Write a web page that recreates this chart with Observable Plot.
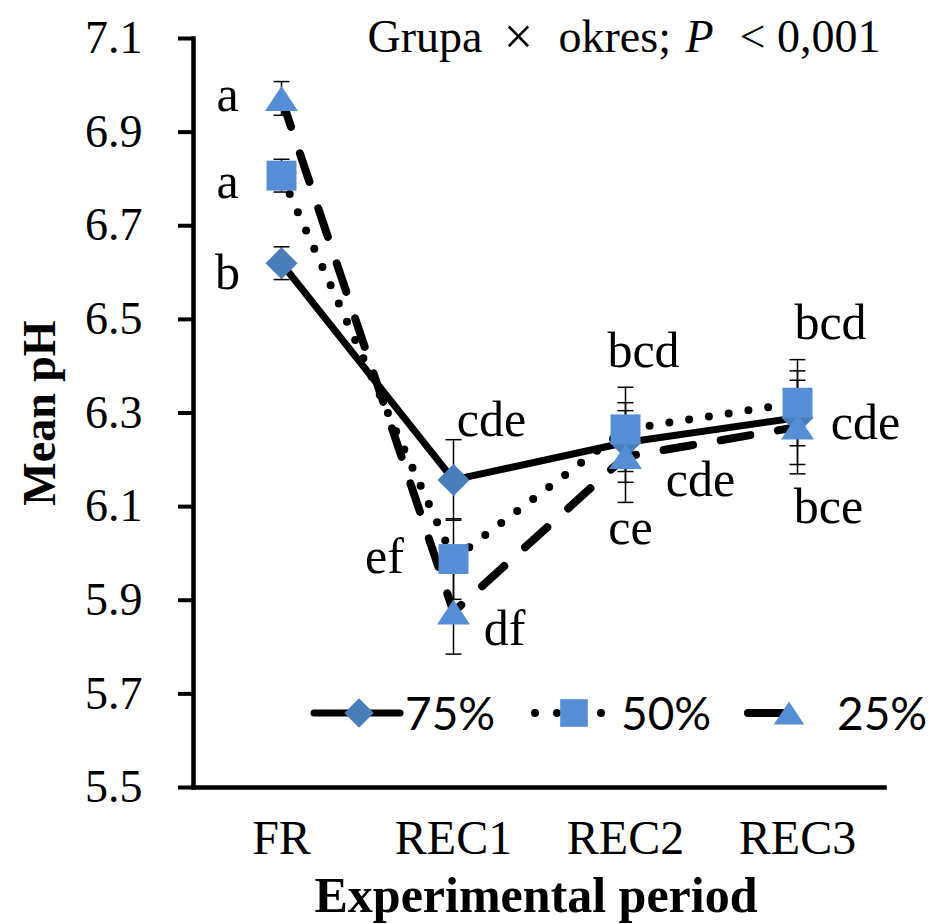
<!DOCTYPE html>
<html>
<head>
<meta charset="utf-8">
<script src="https://cdn.jsdelivr.net/npm/d3@7"></script>
<script src="https://cdn.jsdelivr.net/npm/@observablehq/plot@0.6"></script>
<style>
  body { margin: 0; background: #fff; }
  #chart svg { display: block; }
</style>
</head>
<body>
<div id="chart"></div>
<script>
// Experimental periods and feeding groups
const periods = ["FR", "REC1", "REC2", "REC3"];
const groups = ["75%", "50%", "25%"];

// Mean pH per period
const mean75 = [6.62, 6.157, 6.237, 6.29];
const mean50 = [6.807, 5.988, 6.265, 6.322];
const mean25 = [6.972, 5.875, 6.207, 6.27];

// Standard errors
const se75 = [0.035, 0.086, 0.085, 0.1];
const se50 = [0.035, 0.086, 0.09, 0.092];
const se25 = [0.036, 0.09, 0.098, 0.1];

// Significance letters
const letters75 = ["b", "cde", "cde", "cde"];
const letters50 = ["a", "ef", "bcd", "bcd"];
const letters25 = ["a", "df", "ce", "bce"];

const yTicks = [5.5, 5.7, 5.9, 6.1, 6.3, 6.5, 6.7, 6.9, 7.1];
const titleParts = ["Grupa", "×", "okres;", "P", "<", "0,001"];
const xTitle = "Experimental period";
const yTitle = "Mean pH";

// ---- build rows ----
const seriesMeans = {"75%": mean75, "50%": mean50, "25%": mean25};
const seriesSE = {"75%": se75, "50%": se50, "25%": se25};
const seriesLetters = {"75%": letters75, "50%": letters50, "25%": letters25};
const rows = groups.flatMap(g => periods.map((p, i) => ({
  group: g, period: p, i,
  mean: seriesMeans[g][i], se: seriesSE[g][i], letter: seriesLetters[g][i]
})));
const byGroup = g => rows.filter(d => d.group === g);

// ---- styles ----
const serif = "'Liberation Serif', 'Times New Roman', serif";
const sans = "Lato, 'Liberation Sans', sans-serif";
const diamondBlue = "#4a7ebb";
const lightBlue = "#558ed5";

const lineStyle = {
  "75%": {strokeWidth: 7, strokeDasharray: null},
  "50%": {strokeWidth: 8, strokeDasharray: "0 20"},
  "25%": {strokeWidth: 8, strokeDasharray: "30 28"}
};

// Excel-like marker shapes
const triangleUp = {draw(ctx, size) {
  const s = Math.sqrt(size), hw = s * 0.5, hh = s * 0.38;
  ctx.moveTo(0, -hh); ctx.lineTo(hw, hh); ctx.lineTo(-hw, hh); ctx.closePath();
}};
const capBar = {draw(ctx, size) {
  const s = Math.sqrt(size) / 2;
  ctx.moveTo(-s, 0); ctx.lineTo(s, 0);
}};
const markerStyle = {
  "75%": {symbol: "diamond2", r: 14.4, fill: diamondBlue},
  "50%": {symbol: "square", r: 16.9, fill: lightBlue},
  "25%": {symbol: triangleUp, r: 18.6, fill: lightBlue}
};

// letter offsets (px) relative to each point, per group and period
const letterOffset = {
  "75%": [[-54, 10], [38, -60], [75, 38], [68, 5]],
  "50%": [[-54, 6], [-69, -2], [18, -78], [33, -80]],
  "25%": [[-54, -3], [51, 17], [5, 71], [31, 80]]
};

const marks = [];

// lines
for (const g of groups) {
  marks.push(Plot.line(byGroup(g), {
    x: "period", y: "mean", stroke: "black",
    strokeLinecap: "round", strokeLinejoin: "round",
    ...lineStyle[g]
  }));
}

// error bars
marks.push(Plot.ruleX(rows, {x: "period", y1: d => d.mean - d.se, y2: d => d.mean + d.se, stroke: "black", strokeWidth: 1.5}));
marks.push(Plot.dot(rows, {x: "period", y: d => d.mean + d.se, symbol: capBar, r: 9, stroke: "black", strokeWidth: 1.5, fill: "none"}));
marks.push(Plot.dot(rows, {x: "period", y: d => d.mean - d.se, symbol: capBar, r: 9, stroke: "black", strokeWidth: 1.5, fill: "none"}));

// markers
for (const g of groups) {
  marks.push(Plot.dot(byGroup(g), {x: "period", y: "mean", stroke: null, ...markerStyle[g]}));
}

// significance letters
for (const g of groups) {
  byGroup(g).forEach(d => {
    const [dx, dy] = letterOffset[g][d.i];
    marks.push(Plot.text([d], {x: "period", y: "mean", text: "letter", dx, dy,
      lineAnchor: "middle", textAnchor: "middle", fontSize: 50, fontFamily: serif, fill: "black"}));
  });
}

// axes
marks.push(Plot.axisY({ticks: yTicks, tickFormat: d => d.toFixed(1), tickSize: 15, tickPadding: 36,
  strokeWidth: 4, fontSize: 46, fontFamily: serif, label: null}));
marks.push(Plot.axisX({tickSize: 0, tickPadding: 32, fontSize: 48, fontFamily: serif, label: null}));
marks.push(Plot.frame({anchor: "left", strokeWidth: 4.5, stroke: "black"}));
marks.push(Plot.frame({anchor: "bottom", strokeWidth: 4.5, stroke: "black"}));

// axis titles
marks.push(Plot.text([yTitle], {frameAnchor: "left", dx: -153, rotate: -90, fontSize: 46,
  fontWeight: "bold", fontFamily: serif, textAnchor: "middle", lineAnchor: "middle"}));
marks.push(Plot.text([xTitle], {frameAnchor: "bottom", dx: -3, dy: 108, fontSize: 50,
  fontWeight: "bold", fontFamily: serif, textAnchor: "middle", lineAnchor: "middle"}));

// interaction note in the top-right corner (pieces laid out left to right)
const noteLayout = [
  {dx: 174, anchor: "start"},
  {dx: 325, anchor: "middle", size: 52},
  {dx: 365, anchor: "start"},
  {dx: 492, anchor: "start", italic: true},
  {dx: 559, anchor: "middle"},
  {dx: 687, anchor: "end"}
];
titleParts.forEach((t, k) => {
  const L = noteLayout[k];
  marks.push(Plot.text([t], {frameAnchor: "top-left", dx: L.dx, dy: -1, textAnchor: L.anchor,
    lineAnchor: "middle", fontSize: L.size || 46, fontFamily: serif,
    fontStyle: L.italic ? "italic" : "normal"}));
});

const chart = Plot.plot({
  width: 932,
  height: 924,
  marginLeft: 193,
  marginRight: 48,
  marginTop: 38,
  marginBottom: 137,
  style: {fontFamily: serif, color: "black", background: "white", overflow: "visible"},
  x: {type: "point", domain: periods, padding: 0.5},
  y: {domain: [5.5, 7.1]},
  marks
});

// in-plot legend
const svg = d3.select(chart);
const lg = svg.append("g").attr("class", "legend").attr("text-anchor", "start");
const ly = 713;
const legendItems = [
  {g: "75%", x1: 314, x2: 400, mx: 359, tx: 405},
  {g: "50%", x1: 535, x2: 607, mx: 574, tx: 621},
  {g: "25%", x1: 748, x2: 790, mx: 789, tx: 837}
];
for (const it of legendItems) {
  const st = lineStyle[it.g];
  lg.append("line")
    .attr("x1", it.x1).attr("x2", it.x2).attr("y1", ly).attr("y2", ly)
    .attr("stroke", "black").attr("stroke-width", st.strokeWidth)
    .attr("stroke-linecap", "round")
    .attr("stroke-dasharray", it.g === "50%" ? "0 22" : null);
  const ms = markerStyle[it.g];
  const sym = typeof ms.symbol === "string"
    ? (ms.symbol === "diamond2" ? d3.symbolDiamond2 : d3.symbolSquare)
    : ms.symbol;
  lg.append("path")
    .attr("transform", `translate(${it.mx},${ly})`)
    .attr("d", d3.symbol(sym, Math.PI * ms.r * ms.r * 0.85)())
    .attr("fill", ms.fill);
  lg.append("text")
    .attr("x", it.tx).attr("y", ly).attr("dy", "0.36em")
    .attr("font-family", sans).attr("font-size", 46)
    .attr("fill", "black")
    .text(it.g);
}

document.getElementById("chart").appendChild(chart);
</script>
</body>
</html>
